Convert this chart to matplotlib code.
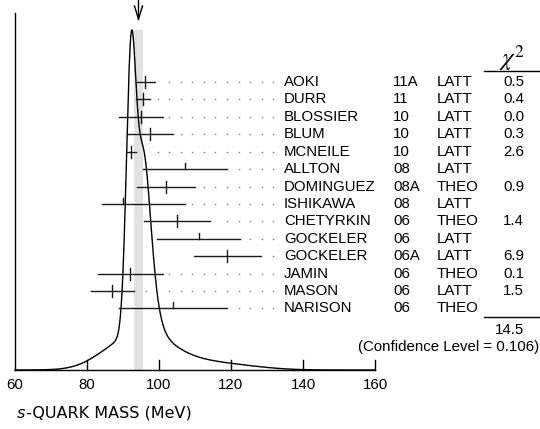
import numpy as np
import matplotlib
matplotlib.use("Agg")
import matplotlib.pyplot as plt

# ---------------- data ----------------
names = ["AOKI", "DURR", "BLOSSIER", "BLUM", "MCNEILE", "ALLTON", "DOMINGUEZ",
         "ISHIKAWA", "CHETYRKIN", "GOCKELER", "GOCKELER", "JAMIN", "MASON", "NARISON"]
years = ["11A", "11", "10", "10", "10", "08", "08A", "08", "06", "06", "06A", "06", "06", "06"]
kinds = ["LATT", "LATT", "LATT", "LATT", "LATT", "LATT", "THEO", "LATT", "THEO",
         "LATT", "LATT", "THEO", "LATT", "THEO"]
chi2 = ["0.5", "0.4", "0.0", "0.3", "2.6", "", "0.9", "", "1.4", "", "6.9", "0.1", "1.5", ""]
values = [96.2, 95.5, 95.0, 97.6, 92.2, 107.3, 102.0, 90.1, 105.0, 111.0, 119.0, 92.0, 87.0, 104.0]
err_lo = [2.7, 1.9, 6.0, 6.2, 1.3, 11.7, 8.0, 6.0, 9.2, 11.6, 9.4, 9.0, 6.0, 15.0]
err_hi = [2.7, 1.9, 6.0, 6.2, 1.3, 11.7, 8.0, 17.2, 9.2, 11.6, 9.4, 9.0, 6.0, 15.0]
average = 94.3
average_err = 1.25
chi2_total = "14.5"
conf_level = "(Confidence Level = 0.106)"
xticks = [60, 80, 100, 120, 140, 160]
xlabel_main = "-QUARK MASS (MeV)"

# ---------------- layout helpers (pixels) ----------------
W, H = 540, 429
X0PX, PXPER = 15.0, 3.6          # 60 MeV at x=15px, 3.6 px per MeV


def vx(px):
    return 60 + (px - X0PX) / PXPER


BASE_Y, TOP_Y = 370.0, 30.0
ROW0, ROWSTEP = 82.0, 17.42
TICK = 6.0

fig = plt.figure(figsize=(W / 100, H / 100), dpi=100)
ax = fig.add_axes([0, 0, 1, 1])
ax.set_xlim(vx(0), vx(W))
ax.set_ylim(H, 0)
ax.axis("off")

font = "Liberation Sans"
fs = 10.8
lw = 1.0

# ideogram
used = [c != "" for c in chi2]
xs = np.linspace(60, 160, 2001)
f = np.zeros_like(xs)
for v, lo, hi, u in zip(values, err_lo, err_hi, used):
    if u:
        s = 0.5 * (lo + hi)
        f += np.exp(-(xs - v) ** 2 / (2 * s * s)) / (s * s)
ys = BASE_Y - (BASE_Y - TOP_Y) * f / f.max()

# shaded band for average
ax.fill_between([average - average_err, average + average_err], TOP_Y, BASE_Y,
                color="#e2e2e2", lw=0, zorder=1)
ax.plot(xs, ys, color="black", lw=lw, zorder=3)

# axis
ax.plot([60, 160], [BASE_Y, BASE_Y], color="black", lw=lw, zorder=3)
ax.plot([60, 60], [13, BASE_Y], color="black", lw=lw, zorder=3)
for t in xticks:
    if t > 60:
        ax.plot([t, t], [BASE_Y, BASE_Y - 10], color="black", lw=lw, zorder=3)
    ax.text(t, 385, str(t), ha="center", va="center", fontsize=fs, family=font)

# arrow at the average
ax.plot([average, average], [0, 19], color="black", lw=lw, zorder=3)
dx = 4 / PXPER
ax.plot([average - dx, average, average + dx], [6, 19, 6], color="black", lw=lw, zorder=3)

# curve in pixel space for dot suppression
curve_px = np.column_stack([X0PX + (xs - 60) * PXPER, ys])

# measurements
DOT_LAST, DOT_STEP = 273.5, 11.6
name_x, year_x, kind_x, chi_x = vx(284), vx(393), vx(437), vx(524)
for i, (nm, yr, kd, c, v, lo, hi) in enumerate(zip(names, years, kinds, chi2, values, err_lo, err_hi)):
    y = ROW0 + i * ROWSTEP
    ax.plot([v - lo, v + hi], [y, y], color="#1a1a1a", lw=lw, zorder=4)
    if c != "":
        ax.plot([v, v], [y - TICK, y + TICK], color="#1a1a1a", lw=lw, zorder=4)
    else:
        ax.plot([v, v], [y - TICK, y], color="#1a1a1a", lw=lw, zorder=4)
    end_px = X0PX + (v + hi - 60) * PXPER
    dots = []
    p = DOT_LAST
    while p > end_px + 6.5:
        d = np.min(np.hypot(curve_px[:, 0] - p, curve_px[:, 1] - y))
        if d > 4:
            dots.append(vx(p))
        p -= DOT_STEP
    if dots:
        ax.plot(dots, [y] * len(dots), ls="none", marker="s", ms=1.0,
                color="#777777", mew=0, zorder=2)
    ax.text(name_x, y, nm, ha="left", va="center", fontsize=fs, family=font)
    ax.text(year_x, y, yr, ha="left", va="center", fontsize=fs, family=font)
    ax.text(kind_x, y, kd, ha="left", va="center", fontsize=fs, family=font)
    if c:
        ax.text(chi_x, y, c, ha="right", va="center", fontsize=fs, family=font)

# chi^2 header and totals
ax.text(vx(512), 58, r"$\chi^2$", ha="center", va="center", fontsize=18,
        math_fontfamily="stix")
ax.plot([vx(484), vx(540)], [71, 71], color="black", lw=lw)
ax.plot([vx(484), vx(540)], [316.7, 316.7], color="black", lw=lw)
ax.text(chi_x, 330, chi2_total, ha="right", va="center", fontsize=fs, family=font)
ax.text(vx(539.5), 347.5, conf_level, ha="right", va="center", fontsize=fs, family=font)

# x label
t1 = ax.text(vx(17), 413, "s", ha="left", va="center", fontsize=11.5,
             family="DejaVu Sans", style="italic")
fig.canvas.draw()
bb = t1.get_window_extent()
ax.text(vx(bb.x1 + 1.0), 413, xlabel_main, ha="left", va="center", fontsize=11.5,
        family="DejaVu Sans")

fig.savefig("out.png", dpi=100)
